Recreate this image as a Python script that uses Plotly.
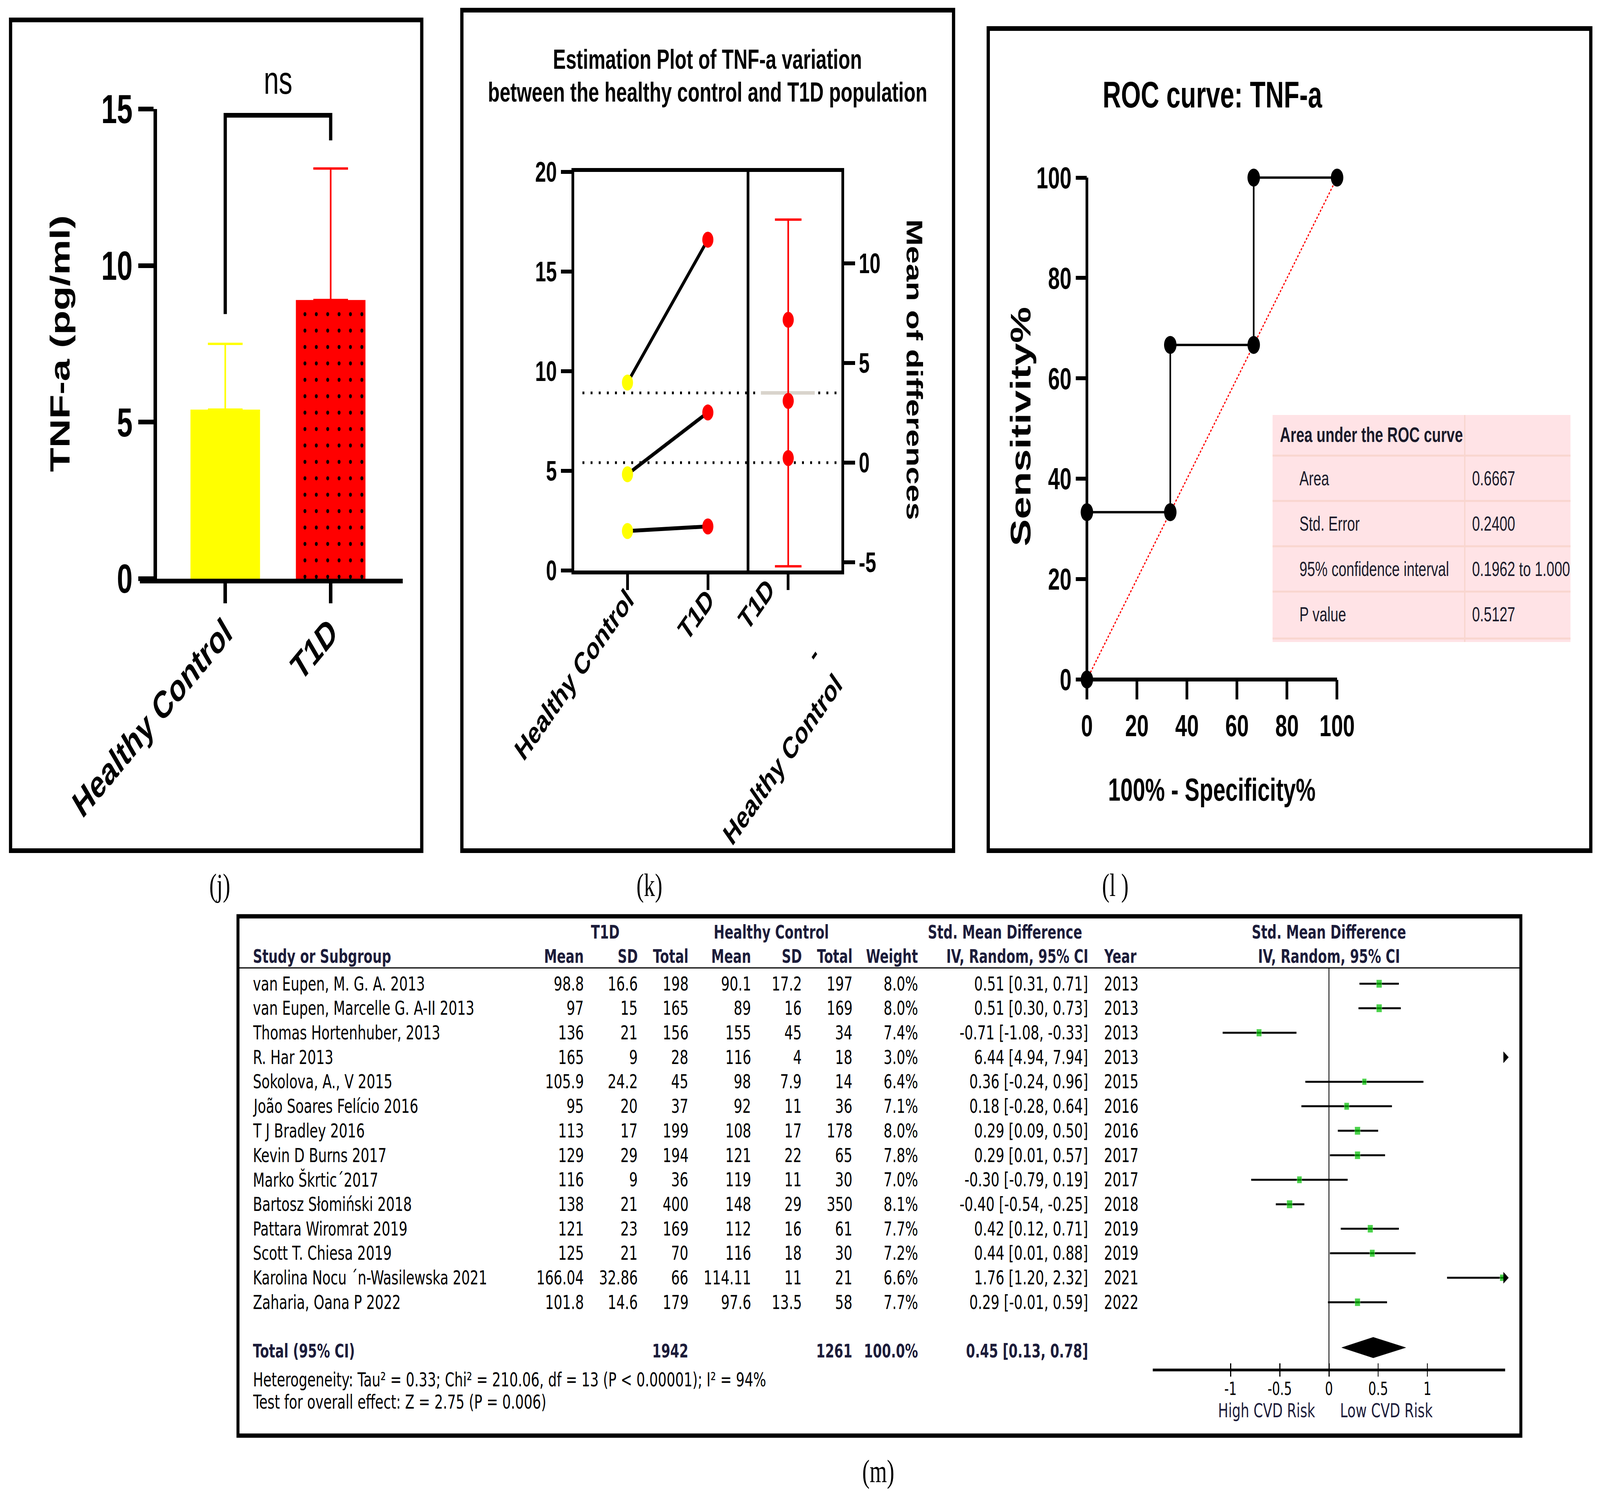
import plotly.graph_objects as go

W, H = 5903, 3849
def X(o): return o / W
def Y(o): return 1 - o / H

SANS = "Liberation Sans, Arial, sans-serif"
NARROW = "Liberation Sans Narrow, Arial Narrow, Liberation Sans, sans-serif"
FOREST = "DejaVu Sans, Verdana, sans-serif"
SERIF = "Liberation Serif, Times New Roman, serif"

# ---------------- data: (j) bar chart ----------------
j_groups = ["Healthy Control", "T1D"]
j_means = [5.4, 8.9]
j_sd = [2.1, 4.2]
j_bracket_x = [0, 0, 1, 1]
j_bracket_y = [8.45, 14.8, 14.8, 14.0]
j_sig = "ns"

# ---------------- data: (k) estimation plot ----------------
k_groups = ["Healthy Control", "T1D"]
k_hc = [9.43, 4.83, 1.98]
k_t1d = [16.6, 7.93, 2.21]
k_diff = [7.17, 3.10, 0.23]
k_mean_hc = 5.41
k_mean_t1d = 8.91
k_mean_diff = 3.5
k_ci_half = 8.7
k_right_ticks = [-5, 0, 5, 10]

# ---------------- data: (l) ROC ----------------
roc_fpr = [0, 0, 33.33, 33.33, 66.67, 66.67, 100]
roc_tpr = [0, 33.33, 33.33, 66.67, 66.67, 100, 100]
roc_ref = [0, 100]
roc_tbl_head = "Area under the ROC curve"
roc_tbl_labels = ["Area", "Std. Error", "95% confidence interval", "P value"]
roc_tbl_values = ["0.6667", "0.2400", "0.1962 to 1.000", "0.5127"]

# ---------------- data: (m) forest plot ----------------
studies = ["van Eupen, M. G. A. 2013", "van Eupen, Marcelle G. A-II 2013", "Thomas Hortenhuber, 2013",
           "R. Har 2013", "Sokolova, A., V 2015", "João Soares Felício 2016", "T J Bradley 2016",
           "Kevin D Burns 2017", "Marko Škrtic´2017", "Bartosz Słomiński 2018", "Pattara Wiromrat 2019",
           "Scott T. Chiesa 2019", "Karolina Nocu ´n-Wasilewska 2021", "Zaharia, Oana P 2022"]
t1d_mean = ["98.8", "97", "136", "165", "105.9", "95", "113", "129", "116", "138", "121", "125", "166.04", "101.8"]
t1d_sd = ["16.6", "15", "21", "9", "24.2", "20", "17", "29", "9", "21", "23", "21", "32.86", "14.6"]
t1d_n = [198, 165, 156, 28, 45, 37, 199, 194, 36, 400, 169, 70, 66, 179]
hc_mean = ["90.1", "89", "155", "116", "98", "92", "108", "121", "119", "148", "112", "116", "114.11", "97.6"]
hc_sd = ["17.2", "16", "45", "4", "7.9", "11", "17", "22", "11", "29", "16", "18", "11", "13.5"]
hc_n = [197, 169, 34, 18, 14, 36, 178, 65, 30, 350, 61, 30, 21, 58]
weights = [8.0, 8.0, 7.4, 3.0, 6.4, 7.1, 8.0, 7.8, 7.0, 8.1, 7.7, 7.2, 6.6, 7.7]
smd = [0.51, 0.51, -0.71, 6.44, 0.36, 0.18, 0.29, 0.29, -0.30, -0.40, 0.42, 0.44, 1.76, 0.29]
ci_lo = [0.31, 0.30, -1.08, 4.94, -0.24, -0.28, 0.09, 0.01, -0.79, -0.54, 0.12, 0.01, 1.20, -0.01]
ci_hi = [0.71, 0.73, -0.33, 7.94, 0.96, 0.64, 0.50, 0.57, 0.19, -0.25, 0.71, 0.88, 2.32, 0.59]
years = [2013, 2013, 2013, 2013, 2015, 2016, 2016, 2017, 2017, 2018, 2019, 2019, 2021, 2022]
total_smd, total_lo, total_hi = 0.45, 0.13, 0.78
heterogeneity = "Heterogeneity: Tau² = 0.33; Chi² = 210.06, df = 13 (P < 0.00001); I² = 94%"
overall = "Test for overall effect: Z = 2.75 (P = 0.006)"
forest_ticks = [-1, -0.5, 0, 0.5, 1]
forest_lim = 1.79

fig = go.Figure()
shapes = []
ann = []

def txt(x, y, s, size, family=SANS, weight="normal", color="black", xanchor="center",
        yanchor="middle", xref="paper", yref="paper", angle=0):
    ann.append(dict(x=x, y=y, xref=xref, yref=yref, text=s, showarrow=False,
                    xanchor=xanchor, yanchor=yanchor, textangle=angle,
                    font=dict(family=family, size=size, color=color, weight=weight)))

def box(x0, y0, x1, y1, w=12):
    shapes.append(dict(type="rect", xref="paper", yref="paper", x0=X(x0), x1=X(x1),
                       y0=Y(y0), y1=Y(y1), line=dict(color="black", width=w)))

# ============ (j) ============
j_colors = ["#FFFF00", "#FF0000"]
j_pat = ["", "."]
for i in range(2):
    fig.add_trace(go.Bar(
        x=[i], y=[j_means[i]], width=0.66, xaxis="x", yaxis="y",
        marker=dict(color=j_colors[i], line=dict(width=0),
                    pattern=dict(shape=j_pat[i], fgcolor="black", bgcolor=j_colors[i],
                                 size=42, solidity=0.05)),
        error_y=dict(type="data", array=[j_sd[i]], arrayminus=[0], symmetric=False,
                     color=j_colors[i], thickness=6, width=64)))
fig.add_trace(go.Scatter(x=j_bracket_x, y=j_bracket_y, mode="lines",
                         line=dict(color="black", width=12), xaxis="x", yaxis="y"))
txt(0.5, Y(205), j_sig, 100, xref="x")
txt(X(222), Y(880), "TNF-a (pg/ml)", 102, weight="bold", angle=-90)
box(39, 51, 1556, 2177)
txt(X(810), Y(2265), "(j)", 82, family=SERIF)

# ============ (k) ============
for i in range(len(k_hc)):
    fig.add_trace(go.Scatter(x=[0, 1], y=[k_hc[i], k_t1d[i]], mode="lines",
                             line=dict(color="black", width=10), xaxis="x2", yaxis="y2"))
fig.add_trace(go.Scatter(x=[0] * len(k_hc), y=k_hc, mode="markers",
                         marker=dict(color="#FFFF00", size=41), xaxis="x2", yaxis="y2"))
fig.add_trace(go.Scatter(x=[1] * len(k_t1d), y=k_t1d, mode="markers",
                         marker=dict(color="#FF0000", size=41), xaxis="x2", yaxis="y2"))
fig.add_trace(go.Scatter(x=[2], y=[k_mean_diff], mode="markers",
                         marker=dict(color="rgba(0,0,0,0)", size=2),
                         error_y=dict(type="data", array=[k_ci_half], color="#FF0000",
                                      thickness=6, width=49),
                         xaxis="x2", yaxis="y3"))
fig.add_trace(go.Scatter(x=[2] * len(k_diff), y=k_diff, mode="markers",
                         marker=dict(color="#FF0000", size=41), xaxis="x2", yaxis="y3"))
for m in (k_mean_t1d, k_mean_hc):
    shapes.append(dict(type="line", xref="x2", yref="y2", x0=-0.56, x1=2.62, y0=m, y1=m,
                       layer="below", line=dict(color="black", width=7, dash="7px,23px")))
shapes.append(dict(type="line", xref="x2", yref="y3", x0=1.66, x1=2.33, y0=k_mean_diff,
                   y1=k_mean_diff, layer="below", line=dict(color="#D9D4CC", width=9)))
shapes.append(dict(type="line", xref="x2", yref="y2", x0=1.5, x1=1.5, y0=0, y1=20,
                   line=dict(color="black", width=10)))
txt(X(2610), Y(151), "Estimation Plot of TNF-a variation", 71, weight="bold")
txt(X(2610), Y(235), "between the healthy control and T1D population", 71, weight="bold")
txt(X(3373), Y(946), "Mean of differences", 82, weight="bold", angle=90)
txt(X(2790), Y(1547), k_groups[1], 78, weight="bold", angle=-45)
txt(X(3000), Y(1673), "-", 78, weight="bold", angle=-45)
txt(X(2887), Y(1943), k_groups[0], 78, weight="bold", angle=-45)
box(1704, 26, 3518, 2177)
txt(X(2396), Y(2265), "(k)", 82, family=SERIF)

# ============ (l) ============
fig.add_trace(go.Scatter(x=roc_ref, y=roc_ref, mode="lines",
                         line=dict(color="#FF0000", width=4, dash="6px,5px"),
                         xaxis="x3", yaxis="y4"))
fig.add_trace(go.Scatter(x=roc_fpr, y=roc_tpr, mode="lines+markers",
                         line=dict(color="black", width=6), marker=dict(color="black", size=46),
                         xaxis="x3", yaxis="y4", cliponaxis=False))
shapes.append(dict(type="line", xref="x3", yref="y4", x0=0, x1=100, y0=0, y1=0, layer="below",
                   line=dict(color="black", width=10)))
shapes.append(dict(type="line", xref="x3", yref="y4", x0=0, x1=0, y0=0, y1=100, layer="below",
                   line=dict(color="black", width=10)))
txt(X(4473), Y(243), "ROC curve: TNF-a", 94, family=NARROW, weight="bold")
txt(X(4471), Y(2020), "100% - Specificity%", 82, family=NARROW, weight="bold")
txt(X(3766), Y(1092), "Sensitivity%", 104, weight="bold", angle=-90)
# table
shapes.append(dict(type="rect", xref="paper", yref="paper", x0=X(4695), x1=X(5794),
                   y0=Y(1062), y1=Y(1643), fillcolor="#FFE3E6", line=dict(width=0)))
for yy in (1166, 1282, 1398, 1514, 1634):
    shapes.append(dict(type="line", xref="paper", yref="paper", x0=X(4695), x1=X(5794),
                       y0=Y(yy), y1=Y(yy), line=dict(color="#F9D6CF", width=5)))
shapes.append(dict(type="line", xref="paper", yref="paper", x0=X(5404), x1=X(5404),
                   y0=Y(1062), y1=Y(1643), line=dict(color="#F9D6CF", width=5)))
txt(X(4720), Y(1112), roc_tbl_head, 54, family=NARROW, weight="bold", color="#1a1a2a", xanchor="left")
row_y = [1224, 1340, 1456, 1572]
for lab, val, yy in zip(roc_tbl_labels, roc_tbl_values, row_y):
    txt(X(4792), Y(yy), lab, 52, family=NARROW, color="#1a1a2a", xanchor="left")
    txt(X(5429), Y(yy), val, 52, family=NARROW, color="#1a1a2a", xanchor="left")
box(3646, 73, 5869, 2177)
txt(X(4115), Y(2265), "(l )", 82, family=SERIF)

# ============ (m) ============
ROW0, ROWH = 2517.6, 62.7          # pixel centre of first study row, row pitch
def rowpos(o): return (o - ROW0) / ROWH

n = len(studies)
rows = list(range(n))
lx, ly = [], []
for r, lo, hi in zip(rows, ci_lo, ci_hi):
    lx += [lo, hi, None]
    ly += [r, r, None]
fig.add_trace(go.Scatter(x=lx, y=ly, mode="lines", line=dict(color="black", width=5),
                         xaxis="x4", yaxis="y5"))
fig.add_trace(go.Scatter(x=smd, y=rows, mode="markers",
                         marker=dict(symbol="square", color="#00C000", size=[2.6 * w for w in weights]),
                         xaxis="x4", yaxis="y5"))
arr_rows = [r for r, hi in zip(rows, ci_hi) if hi > forest_lim]
fig.add_trace(go.Scatter(x=[forest_lim] * len(arr_rows), y=arr_rows, mode="markers",
                         marker=dict(symbol="triangle-right", color="black", size=26),
                         xaxis="x4", yaxis="y5", cliponaxis=False))
r_tot = 14.85
dh = 0.42
fig.add_trace(go.Scatter(x=[total_lo, total_smd, total_hi, total_smd, total_lo],
                         y=[r_tot, r_tot - dh, r_tot, r_tot + dh, r_tot], mode="lines",
                         fill="toself", fillcolor="black", line=dict(color="black", width=1),
                         xaxis="x4", yaxis="y5"))
shapes.append(dict(type="line", xref="x4", yref="paper", x0=0, x1=0, y0=Y(2477), y1=Y(3506),
                   line=dict(color="black", width=3)))
shapes.append(dict(type="line", xref="paper", yref="paper", x0=X(4253), x1=X(5553),
                   y0=Y(3506), y1=Y(3506), line=dict(color="black", width=7)))
shapes.append(dict(type="line", xref="paper", yref="paper", x0=X(878), x1=X(5611),
                   y0=Y(2477), y1=Y(2477), line=dict(color="black", width=3)))
HC = "#1c1c3a"
FS = 50
FB = 48
# headers
txt(X(2233), Y(2385), "T1D", FB, family=FOREST, weight="bold", color=HC)
txt(X(2845), Y(2385), "Healthy Control", FB, family=FOREST, weight="bold", color=HC)
txt(X(3708), Y(2385), "Std. Mean Difference", FB, family=FOREST, weight="bold", color=HC)
txt(X(4903), Y(2385), "Std. Mean Difference", FB, family=FOREST, weight="bold", color=HC)
hdr = [(931, "Study or Subgroup", "left"), (2156, "Mean", "right"), (2355, "SD", "right"),
       (2542, "Total", "right"), (2773, "Mean", "right"), (2960, "SD", "right"),
       (3147, "Total", "right"), (3389, "Weight", "right"), (4017, "IV, Random, 95% CI", "right"),
       (4071, "Year", "left"), (4903, "IV, Random, 95% CI", "center")]
for xo, s, a in hdr:
    txt(X(xo), Y(2447), s, FB, family=FOREST, weight="bold", color=HC, xanchor=a)
# rows
for r in rows:
    cells = [(931, studies[r], "left"), (2156, t1d_mean[r], "right"), (2355, t1d_sd[r], "right"),
             (2542, str(t1d_n[r]), "right"), (2773, hc_mean[r], "right"), (2960, hc_sd[r], "right"),
             (3147, str(hc_n[r]), "right"), (3389, f"{weights[r]:.1f}%", "right"),
             (4017, f"{smd[r]:.2f} [{ci_lo[r]:.2f}, {ci_hi[r]:.2f}]", "right"),
             (4071, str(years[r]), "left")]
    for xo, s, a in cells:
        txt(X(xo), r, s, FS, family=FOREST, xanchor=a, yref="y5")
# total row
r_txt = 14.98
tot_cells = [(931, "Total (95% CI)", "left"), (2542, str(sum(t1d_n)), "right"),
             (3147, str(sum(hc_n)), "right"), (3389, f"{sum(weights):.1f}%", "right"),
             (4017, f"{total_smd:.2f} [{total_lo:.2f}, {total_hi:.2f}]", "right")]
for xo, s, a in tot_cells:
    txt(X(xo), r_txt, s, FB, family=FOREST, weight="bold", color=HC, xanchor=a, yref="y5")
txt(X(931), Y(3531), heterogeneity, FS, family=FOREST, xanchor="left")
txt(X(931), Y(3588), overall, FS, family=FOREST, xanchor="left")
txt(X(4673), Y(3610), "High CVD Risk", FS, family=FOREST, color=HC)
txt(X(5115), Y(3610), "Low CVD Risk", FS, family=FOREST, color=HC)
box(878, 2345, 5611, 3674, w=11)
txt(X(3240), Y(3765), "(m)", 82, family=SERIF)

# ---------------- axes ----------------
def axis(**kw):
    d = dict(showgrid=False, zeroline=False, ticks="outside", tickcolor="black",
             linecolor="black", color="black")
    d.update(kw)
    return d

bold = lambda s, fam=SANS: dict(family=fam, size=s, color="black", weight="bold")

fig.update_layout(
    width=W, height=H, margin=dict(l=0, r=0, t=0, b=0), template="none",
    paper_bgcolor="white", plot_bgcolor="rgba(0,0,0,0)", showlegend=False, barmode="overlay",
    xaxis=axis(domain=[X(516), X(1486)], range=[-0.81, 1.684], anchor="y", tickmode="array",
               tickvals=[0, 1], ticktext=j_groups, tickangle=-40, ticklen=51, tickwidth=12,
               ticklabelstandoff=-22, showline=True, linewidth=12, tickfont=bold(98)),
    yaxis=axis(domain=[Y(1481), Y(279)], range=[0, 15], anchor="free", position=X(573),
               tickvals=[0, 5, 10, 15], ticklen=57, tickwidth=12, showline=True, linewidth=12,
               tickfont=bold(104)),
    xaxis2=axis(domain=[X(2119), X(3104)], range=[-0.661, 2.661], anchor="y2", tickmode="array",
                tickvals=[0, 1, 2], ticktext=k_groups + [""], tickangle=-45, ticklen=40,
                ticklabelstandoff=-52, tickwidth=10, showline=True, mirror=True, linewidth=10,
                tickfont=bold(78)),
    yaxis2=axis(domain=[Y(1460), Y(440)], range=[0, 20], anchor="x2", tickvals=[0, 5, 10, 15, 20],
                ticklen=40, tickwidth=10, showline=True, linewidth=10, tickfont=bold(72)),
    yaxis3=axis(domain=[Y(1460), Y(440)], range=[-5.41, 14.59], anchor="x2", overlaying="y2",
                side="right", tickmode="array", tickvals=k_right_ticks,
                ticktext=[str(t) for t in k_right_ticks], ticklen=40, tickwidth=10,
                showline=True, linewidth=10, tickfont=bold(72)),
    xaxis3=axis(domain=[X(3982.3), X(4960.7)], range=[-3, 103], anchor="free", position=Y(1739),
                tickvals=[0, 20, 40, 60, 80, 100], ticklen=50, tickwidth=10, showline=False,
                tickfont=bold(78, NARROW)),
    yaxis4=axis(domain=[Y(1777.5), Y(416)], range=[-3, 103], anchor="free", position=X(4010),
                tickvals=[0, 20, 40, 60, 80, 100], ticklen=41, tickwidth=10, showline=False,
                tickfont=bold(78, NARROW)),
    xaxis4=axis(domain=[X(4253), X(5553)], range=[-forest_lim, forest_lim], anchor="y5",
                tickvals=forest_ticks, ticktext=[f"{t:g}" for t in forest_ticks], ticks="inside",
                ticklen=34, tickwidth=4, showline=False,
                tickfont=dict(family=FOREST, size=46, color="black")),
    yaxis5=dict(domain=[Y(3523), Y(2477)], range=[rowpos(3523), rowpos(2477)], anchor="x4",
                visible=False),
    shapes=shapes, annotations=ann,
)

# The figure is laid out for a 5903x3849 page; if the browser viewport is a
# different size, scale the whole drawing so that it fills the viewport.
fit_js = """
var gd = document.getElementById('{plot_id}');
var iw = window.innerWidth, ih = window.innerHeight;
var sx = iw / 5903, sy = ih / 3849;
document.documentElement.style.margin = '0';
document.body.style.margin = '0';
document.documentElement.style.overflow = 'hidden';
document.body.style.overflow = 'hidden';
var wrap = gd.parentElement;
wrap.style.width = iw + 'px';
wrap.style.height = ih + 'px';
wrap.style.overflow = 'hidden';
gd.style.transformOrigin = '0 0';
gd.style.transform = 'scale(' + sx + ',' + sy + ')';
"""
fig.write_html("out.html", post_script=fit_js, config={"displayModeBar": False})
